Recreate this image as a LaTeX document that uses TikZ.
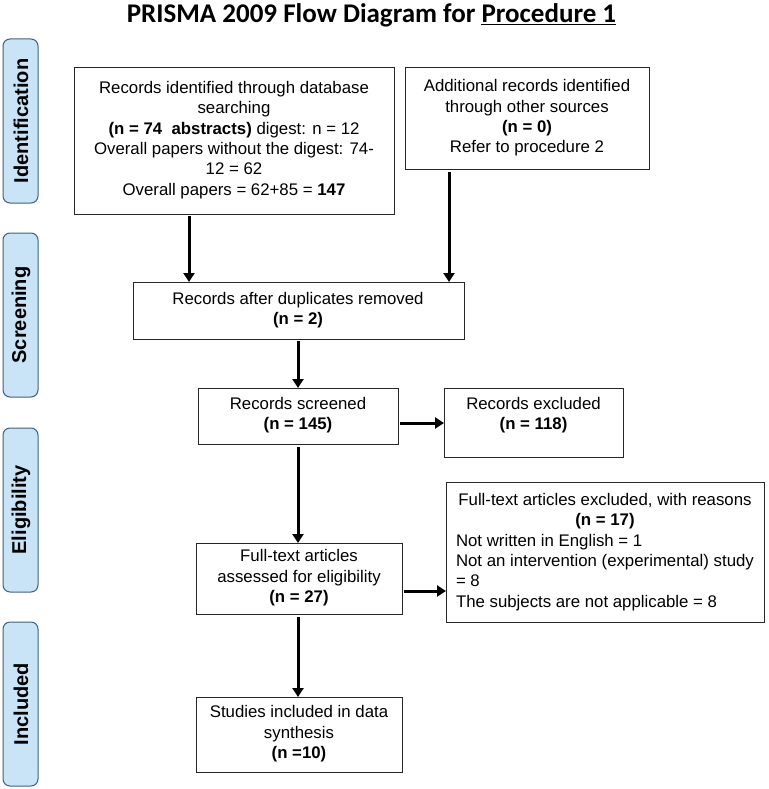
\documentclass[tikz,border=0pt]{standalone}
\usepackage{fontspec}
\setmainfont{Liberation Sans}
\newfontfamily\titlefont{Carlito}
\usetikzlibrary{arrows.meta}
\definecolor{tabfill}{HTML}{C9E3F7}
\definecolor{tabdraw}{HTML}{41607A}
\begin{document}
\begin{tikzpicture}[x=1pt,y=-1pt,
  box/.style={draw=black!85,line width=0.9pt,inner sep=0pt},
  txt/.style={align=center,inner sep=0pt,font=\fontsize{16.8}{20.4}\selectfont},
  side/.style={draw=tabdraw,line width=1pt,fill=tabfill,rounded corners=7pt},
  sidelab/.style={rotate=90,inner sep=0pt,font=\bfseries\fontsize{20}{22}\selectfont},
  arr/.style={line width=3pt,-{Triangle[length=9pt,width=11pt]}}]
\useasboundingbox (0,0) rectangle (768,789);
\node[inner sep=0pt] (title) at (371.5,15) {\titlefont\bfseries\fontsize{27}{30}\selectfont PRISMA 2009 Flow Diagram for \underline{Procedure 1}};
% side tabs
\draw[side] (3,39) rectangle (38,203);
\node[sidelab] (l1) at (21,121) {Identification};
\draw[side] (3,233) rectangle (38,397);
\node[sidelab] (l2) at (21,315) {Screening};
\draw[side] (3,428) rectangle (38,592);
\node[sidelab] (l3) at (21,510) {Eligibility};
\draw[side] (3,622) rectangle (38,786);
\node[sidelab] (l4) at (21,704) {Included};
% boxes
\draw[box] (74,67) rectangle (394,214) coordinate (Abr);
\node[txt] (A) at (234,140) {Records identified through database\\searching\\\textbf{(n = 74\ \ abstracts)} digest: n = 12\\Overall papers without the digest: 74-\\12 = 62\\Overall papers = 62+85 = \textbf{147}};
\draw[box] (405,67) rectangle (649,169);
\node[txt] (B) at (527,118) {Additional records identified\\through other sources\\\textbf{(n = 0)}\\Refer to procedure 2};
\draw[box] (133,282) rectangle (464,339);
\node[txt] (C) at (298,310) {Records after duplicates removed\\\textbf{(n = 2)}};
\draw[box] (198,388) rectangle (398,444);
\node[txt] (D) at (298,415) {Records screened\\\textbf{(n = 145)}};
\draw[box] (444,388) rectangle (623,457);
\node[txt] (E) at (533.5,415) {Records excluded\\\textbf{(n = 118)}};
\draw[box] (196,543) rectangle (402,614);
\node[txt] (F) at (299,578) {Full-text articles\\assessed for eligibility\\\textbf{(n = 27)}};
\draw[box] (446,482) rectangle (764,622);
\node[txt,align=left] (G) at (605,552) {\makebox[298pt]{Full-text articles excluded, with reasons}\\\makebox[298pt]{\textbf{(n = 17)}}\\Not written in English = 1\\Not an intervention (experimental) study\\= 8\\The subjects are not applicable = 8};
\draw[box] (196,697) rectangle (402,772);
\node[txt] (H) at (299,734) {Studies included in data\\synthesis\\\textbf{(n =10)}};
% connector end points
\coordinate (a1) at (189,216);  \coordinate (c1) at (189,282);
\coordinate (b1) at (449,172);  \coordinate (c2) at (449,282);
\coordinate (c3) at (298,341);  \coordinate (d1) at (298,388);
\coordinate (d2) at (298,447);  \coordinate (f1) at (298,543);
\coordinate (f2) at (298,617);  \coordinate (h1) at (298,697);
\coordinate (d3) at (400,423);  \coordinate (e1) at (444,423);
\coordinate (f3) at (404,591);  \coordinate (g1) at (446,591);
% arrows
\draw[arr] (a1) -- (c1);
\draw[arr] (b1) -- (c2);
\draw[arr] (c3) -- (d1);
\draw[arr] (d2) -- (f1);
\draw[arr] (f2) -- (h1);
\draw[arr] (d3) -- (e1);
\draw[arr] (f3) -- (g1);
\end{tikzpicture}
\end{document}
